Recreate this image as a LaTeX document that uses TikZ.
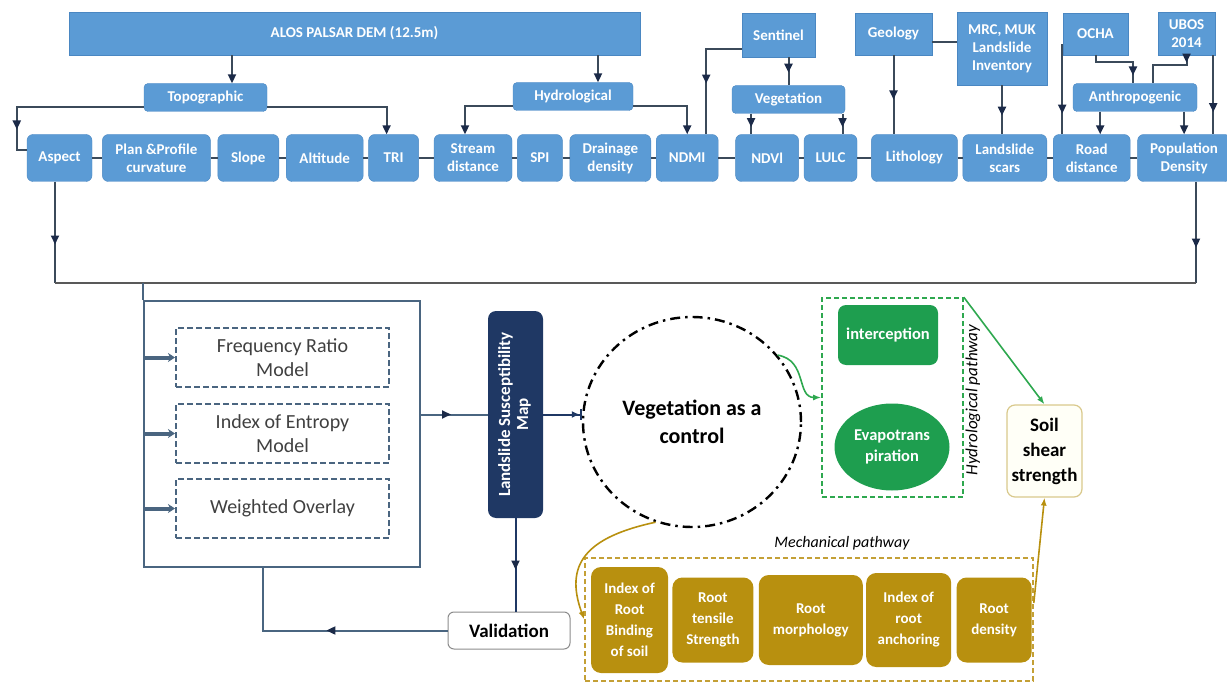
\documentclass[tikz,border=0pt]{standalone}
\usepackage{fontspec}
\setmainfont{Carlito}
\usepackage{graphicx}
\usepackage{tikz}
\usetikzlibrary{positioning, shapes.geometric, arrows.meta, decorations.markings}

\definecolor{boxblue}{HTML}{5B9BD5}
\definecolor{boxedge}{HTML}{4A87C2}
\definecolor{linec}{HTML}{3B4A5A}
\definecolor{arrc}{HTML}{1B2A48}
\definecolor{modc}{HTML}{4A6580}
\definecolor{navy}{HTML}{1F3864}
\definecolor{leafg}{HTML}{1E9E4F}
\definecolor{dashg}{HTML}{2EA84F}
\definecolor{rootc}{HTML}{B8900F}
\definecolor{rootd}{HTML}{C4A036}
\definecolor{soilc}{HTML}{D9C98C}

\begin{document}
\begin{tikzpicture}[x=1pt, y=-1pt, node distance=5pt,
    src/.style={draw=boxedge, fill=boxblue, text=white, align=center, inner sep=2pt,
        font=\fontsize{15}{18}\selectfont\bfseries},
    cat/.style={src, rounded corners=4pt, minimum height=28pt},
    fac/.style={src, rounded corners=6pt, minimum height=47pt},
    link/.style={draw=linec, line width=2pt},
    endarr/.style={-{Triangle[length=9pt, width=8pt, color=arrc]}},
    marr/.style={postaction={decorate, decoration={markings,
        mark=at position #1 with {\arrow{Triangle[length=9pt, width=8pt, color=arrc]}}}}},
    model/.style={draw=modc, line width=2pt, dash pattern=on 6pt off 3pt, minimum width=213pt,
        minimum height=59pt, align=center, text=black!75, font=\fontsize{20}{24}\selectfont},
    feed/.style={draw=modc, line width=4pt, -{Stealth[length=7pt, width=9pt]}},
    leaf/.style={fill=leafg, text=white, align=center, font=\fontsize{16.5}{21}\selectfont\bfseries},
    root/.style={fill=rootc, text=white, rounded corners=10pt, align=center, minimum height=85pt,
        font=\fontsize{15}{21}\selectfont\bfseries},
]
    \useasboundingbox (0,0) rectangle (1227,682);

    % sources
    \node[src, minimum width=571pt, minimum height=43pt] (alos) at (354.5,33.5) {ALOS PALSAR DEM (12.5m)};
    \node[src, minimum width=73pt, minimum height=44pt] (sentinel) at (778.5,35) {Sentinel};
    \node[src, minimum width=77pt, minimum height=42pt] (geology) at (893.5,34) {Geology};
    \node[src, minimum width=90pt, minimum height=73pt] (mrc) at (1002,48.5) {MRC, MUK\\Landslide\\Inventory};
    \node[src, minimum width=65pt, minimum height=42pt] (ocha) at (1095.5,34) {OCHA};
    \node[src, minimum width=57pt, minimum height=43pt] (ubos) at (1186.5,33.5) {UBOS\\2014};

    % groups
    \node[cat, minimum width=123pt] (topo) at (205.5,97.5) {Topographic};
    \node[cat, minimum width=120pt] (hydro) at (573,96.5) {Hydrological};
    \node[cat, minimum width=113pt] (vegcat) at (788.5,99.5) {Vegetation};
    \node[cat, minimum width=124pt] (anthro) at (1135,97.5) {Anthropogenic};

    % factors
    \node[fac, minimum width=65pt] (aspect) at (59.5,158) {Aspect};
    \node[fac, minimum width=108pt, right=10pt of aspect] (plan) {Plan \&Profile\\curvature};
    \node[fac, minimum width=61pt, right=7pt of plan] (slope) {Slope};
    \node[fac, minimum width=77pt, right=7pt of slope] (altitude) {Altitude};
    \node[fac, minimum width=50pt, right=of altitude] (tri) {TRI};
    \node[fac, minimum width=78pt, right=15pt of tri] (stream) {Stream\\distance};
    \node[fac, minimum width=45pt, right=of stream] (spi) {SPI};
    \node[fac, minimum width=81pt, right=7pt of spi] (drainage) {Drainage\\density};
    \node[fac, minimum width=62pt, right=of drainage] (ndmi) {NDMI};
    \node[fac, minimum width=63pt, right=17pt of ndmi] (ndvi) {NDVl};
    \node[fac, minimum width=53pt, right=of ndvi] (lulc) {LULC};
    \node[fac, minimum width=86pt, right=14pt of lulc] (litho) {Lithology};
    \node[fac, minimum width=84pt, right=of litho] (scars) {Landslide\\scars};
    \node[fac, minimum width=77pt, right=6pt of scars] (road) {Road\\distance};
    \node[fac, minimum width=93pt, right=7pt of road] (popd) {Population\\Density};

    % models
    \node[draw=modc, line width=1.8pt, minimum width=276pt, minimum height=266pt] (models) at (282,434) {};
    \node[model] (fr) at (282.5,357.5) {Frequency Ratio\\Model};
    \node[model, below=15pt of fr] (ie) {Index of Entropy\\Model};
    \node[model, below=14pt of ie] (wo) {Weighted Overlay};
    \node[fill=navy, text=white, rounded corners=8pt, minimum width=55pt, minimum height=207pt,
        font=\fontsize{17}{18}\selectfont\bfseries] (lsm) at (515.5,414.5)
        {\rotatebox{90}{\begin{tabular}{@{}c@{}}Landslide Susceptibility\\Map\end{tabular}}};
    \node[draw=black!45, line width=1pt, rounded corners=6pt, minimum width=122pt, minimum height=37pt,
        font=\fontsize{19}{22}\selectfont\bfseries] (valid) at (509,630.5) {Validation};

    % vegetation
    \node[ellipse, draw, line width=2.4pt, dash pattern=on 10pt off 5pt on 2.5pt off 5pt,
        minimum width=218pt, minimum height=210pt, align=center,
        font=\fontsize{22}{28}\selectfont\bfseries] (vegc) at (692,422) {Vegetation as a\\control};

    % hydrological pathway
    \node[draw=dashg, line width=1.6pt, dash pattern=on 5pt off 3pt, minimum width=141pt,
        minimum height=199pt] (hydbox) at (892.5,397.5) {};
    \node[leaf, rounded corners=8pt, minimum width=100pt, minimum height=60pt] (interc) at (888,335) {interception};
    \node[leaf, ellipse, inner sep=0pt, minimum width=115pt, minimum height=87pt] (evap) at (892,447) {Evapotrans\\piration};
    \node[rotate=90, font=\fontsize{17}{20}\selectfont\itshape] (hydlab) at (973,400) {Hydrological pathway};
    \node[draw=soilc, fill=yellow!3, line width=1.2pt, rounded corners=8pt, minimum width=75pt,
        minimum height=92pt, align=center, font=\fontsize{19}{25}\selectfont\bfseries] (soil) at (1044.5,451) {Soil\\shear\\strength};

    % mechanical pathway
    \node[draw=rootd, line width=1.6pt, dash pattern=on 5pt off 3pt, minimum width=448pt,
        minimum height=123pt] (mechbox) at (809,619.5) {};
    \node[font=\fontsize{16}{19}\selectfont\itshape] (mechlab) at (842,543) {Mechanical pathway};
    \node[root, minimum width=77pt, minimum height=106pt] (binding) at (629.5,620) {Index of\\Root\\Binding\\of soil};
    \node[root, minimum width=81pt, right=4pt of binding] (tensile) {Root\\tensile\\Strength};
    \node[root, minimum width=104pt, minimum height=90pt, right=of tensile] (morph) {Root\\morphology};
    \node[root, minimum width=85pt, minimum height=94pt, right=3pt of morph] (anchoring) {Index of\\root\\anchoring};
    \node[root, minimum width=75pt, right=of anchoring] (density) {Root\\density};

    % bus
    \coordinate (busL) at (55,283);
    \coordinate (busR) at (1196,283);

    \foreach \a/\b in {aspect/plan, plan/slope, slope/altitude, altitude/tri, tri/stream, stream/spi,
        spi/drainage, drainage/ndmi, ndmi/ndvi, ndvi/lulc, lulc/litho, litho/scars, scars/road, road/popd}
        \draw[link] (\a) -- (\b);

    \draw[link, endarr] ([xshift=26.5pt]topo.north |- alos.south) -- ([xshift=26.5pt]topo.north);
    \draw[link, endarr] ([xshift=25pt]hydro.north |- alos.south) -- ([xshift=25pt]hydro.north);
    \draw[link, marr=0.83] ([yshift=-10pt]topo.west) -| ([xshift=-10pt, yshift=8pt]aspect.west) -- ([yshift=8pt]aspect.west);
    \draw[link, endarr] ([yshift=-10pt]topo.east) -| ([xshift=-7pt]tri.north);
    \draw[link, endarr] ([yshift=-10pt]hydro.west) -| ([xshift=-8pt]stream.north);
    \draw[link, endarr] ([yshift=-10pt]hydro.east) -| (ndmi.north);
    \draw[link, marr=0.58] ([yshift=-14pt]sentinel.west) -| ([xshift=19pt]ndmi.north);
    \draw[link, marr=0.55] (sentinel.south -| vegcat) -- (vegcat);
    \draw[link, marr=0.65] ([xshift=-16pt]ndvi.north |- vegcat.south) -- ([xshift=-16pt]ndvi.north);
    \draw[link, marr=0.65] ([xshift=12pt]lulc.north |- vegcat.south) -- ([xshift=12pt]lulc.north);
    \draw[link] ([yshift=-8pt]geology.east) -- ([yshift=-8pt]geology.east -| mrc.west);
    \draw[link, marr=0.56] (geology.south) -- (geology.south |- litho.north);
    \draw[link, marr=0.62] (mrc.south) -- (mrc.south |- scars.north);
    \draw[link, marr=0.77] ([yshift=-11pt]ocha.west) -| ([xshift=-29.5pt]road.north);
    \draw[link, marr=0.88] (ocha.south) -- ++(0,7) -| ([xshift=-2pt]anthro.north);
    \draw[link, marr=0.12] (ubos.south) -- ++(0,10) -| ([xshift=18pt]anthro.north);
    \draw[link, marr=0.72] ([xshift=-2pt]ubos.south east) -- ([xshift=-2pt]ubos.south east |- popd.north);
    \draw[link, endarr] ([xshift=8.5pt]road.north |- anthro.south) -- ([xshift=8.5pt]road.north);
    \draw[link, endarr] (popd.north |- anthro.south) -- (popd.north);

    \draw[link, marr=0.62] (aspect.south -| busL) -- (busL);
    \draw[link, marr=0.65] (popd.south -| busR) -- (busR);
    \draw[link, draw=black!65] (busL) -- (busR);
    \draw[link, draw=modc] (busL -| models.north west) -- (models.north west);

    \foreach \m in {fr, ie, wo}
        \draw[feed] (models.west |- \m) -- (\m.west);
    \draw[link, draw=modc, marr=0.45] (models.east |- lsm) -- (lsm);
    \draw[draw=navy, line width=2pt, -{Latex[length=8pt, width=7pt] Bar[width=11pt]}] (lsm) -- (lsm -| vegc.west);
    \draw[link, draw=navy, marr=0.55] (lsm) -- (lsm |- valid.north);
    \draw[link, draw=modc, marr=0.49] (valid.west) -| ([xshift=-19pt]models.south);

    \draw[draw=dashg, line width=1.6pt, -{Latex[length=8pt]}] (vegc.38) .. controls +(30,5) and +(-25,0) .. (hydbox.west);
    \draw[draw=dashg, line width=1.6pt, -{Latex[length=8pt]}] (hydbox.north east) -- (soil.north);
    \draw[draw=rootc, line width=1.6pt, -{Latex[length=8pt]}] (vegc.-110) .. controls +(-70,15) and +(-20,-55) .. (mechbox.west);
    \draw[draw=rootc, line width=1.6pt, -{Latex[length=8pt]}] ([yshift=16.5pt]mechbox.east) -- (soil.south);
\end{tikzpicture}
\end{document}
